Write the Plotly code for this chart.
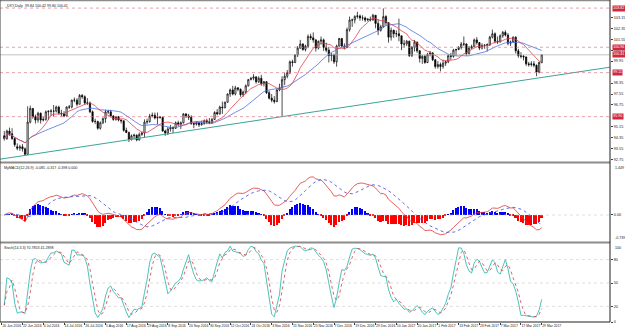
import plotly.graph_objects as go
import pandas as pd

# ---------------- data ----------------
# daily bars, index 0 = 13 Jun 2016 ... 207 = 29 Mar 2017
open_ = [94.50,94.30,94.85,94.65,94.30,93.70,93.60,93.70,93.55,93.15,
         95.50,96.50,95.90,95.65,96.15,95.65,95.70,96.25,96.30,96.30,
         96.30,96.60,96.15,96.10,95.95,96.60,96.60,97.10,97.10,96.80,
         97.45,97.35,96.90,96.90,96.25,95.55,95.55,95.05,95.45,95.75,
         96.25,96.25,95.95,95.70,95.90,95.65,95.60,94.90,94.75,94.25,
         94.50,94.55,94.20,94.60,94.70,95.50,95.55,95.95,96.00,95.80,
         95.85,95.85,94.85,94.70,95.00,95.10,95.05,95.45,95.35,95.45,
         96.10,95.95,95.85,95.40,95.35,95.45,95.30,95.40,95.60,95.50,
         95.45,95.70,96.20,96.10,96.60,96.55,96.95,97.55,97.85,97.55,
         98.00,97.90,97.50,97.70,98.15,98.60,98.70,98.80,98.45,98.70,
         98.30,98.45,97.65,97.25,97.10,97.00,97.85,98.00,98.60,98.85,
         99.10,99.90,99.85,100.40,100.90,101.20,100.80,101.05,101.75,101.65,
         101.50,100.90,101.40,101.50,100.95,100.75,100.35,100.40,99.90,101.05,
         101.60,101.05,100.95,102.25,102.95,102.95,103.20,103.25,103.10,103.10,
         102.95,103.00,102.95,103.30,102.70,102.20,102.45,103.20,102.75,101.70,
         102.20,101.95,101.95,101.80,101.20,101.20,101.40,100.35,100.95,101.35,
         100.70,100.15,100.30,99.85,100.45,100.55,100.05,99.55,99.70,99.55,
         99.80,99.90,100.35,100.30,100.75,100.80,100.95,101.20,101.20,100.50,
         100.90,101.00,101.50,101.30,100.90,101.10,101.10,101.15,101.70,101.95,
         101.40,101.35,101.80,102.05,101.85,101.25,101.35,101.70,100.70,100.35,
         100.30,100.25,99.75,99.70,99.75,99.65,99.15,99.84]
high = [94.85,94.95,95.10,95.05,94.35,93.95,93.85,93.90,93.65,96.65,
        96.70,96.50,96.05,96.25,96.20,95.90,96.35,96.35,96.45,96.75,
        96.70,96.70,96.40,96.30,96.65,96.75,97.15,97.30,97.25,97.55,
        97.55,97.45,97.25,97.00,96.35,95.75,95.60,95.55,95.85,96.40,
        96.40,96.40,96.00,95.95,95.95,95.70,95.60,95.10,94.80,94.60,
        94.65,94.60,94.75,94.80,95.70,95.75,96.10,96.20,96.20,96.20,
        95.95,95.90,94.95,95.15,95.30,95.20,95.55,95.60,95.55,96.15,
        96.15,96.10,96.00,95.45,95.55,95.50,95.60,95.70,95.75,95.80,
        95.80,96.30,96.45,96.70,97.00,97.00,97.60,97.95,98.15,98.15,
        98.05,97.95,97.80,98.25,98.65,98.80,99.00,98.85,98.85,98.95,
        98.50,98.50,97.80,97.55,97.40,97.90,98.30,98.85,99.10,99.30,
        100.00,100.05,100.45,101.05,101.50,101.25,101.15,101.90,101.95,102.05,
        101.55,101.45,101.75,101.60,101.30,101.00,100.55,100.50,101.15,101.65,
        101.60,101.25,102.40,103.20,103.05,103.30,103.55,103.35,103.30,103.20,
        103.10,103.20,103.40,103.30,103.00,102.60,103.80,103.30,102.80,102.40,
        102.25,102.20,103.05,101.80,101.50,101.50,101.45,101.05,101.50,101.35,
        100.75,100.40,100.40,100.55,100.70,100.60,100.10,99.95,99.85,100.05,
        100.00,100.45,100.55,100.85,100.85,101.05,101.35,101.75,101.25,101.05,
        101.15,101.60,101.70,101.35,101.25,101.20,101.25,101.80,102.25,102.05,
        101.75,101.90,102.15,102.20,102.00,101.45,101.75,101.75,100.85,100.60,
        100.40,100.30,99.90,99.95,99.95,99.70,99.90,100.42]
low = [94.15,94.20,94.50,94.20,93.70,93.45,93.40,93.35,93.05,93.10,
       95.40,95.75,95.40,95.45,95.40,95.55,95.60,95.65,95.95,95.90,
       96.20,96.05,95.90,95.85,95.90,96.45,96.50,96.95,96.65,96.80,
       97.20,96.75,96.75,96.15,95.45,95.35,94.95,94.95,95.35,95.45,
       96.10,95.85,95.60,95.60,95.55,95.40,94.80,94.70,94.05,94.15,
       94.25,94.10,94.15,94.50,94.35,95.35,95.45,95.85,95.70,95.35,
       95.75,94.80,94.50,94.55,94.80,94.70,95.00,95.20,95.00,95.40,
       95.80,95.65,95.30,95.05,95.25,95.15,95.25,95.30,95.35,95.35,
       95.40,95.65,96.00,96.05,96.10,96.50,96.90,97.35,97.45,97.45,
       97.75,97.35,97.35,97.55,98.10,98.55,98.55,98.30,98.35,98.15,
       98.10,97.55,97.15,96.95,96.85,96.95,97.75,95.90,98.20,98.70,
       99.00,99.55,99.80,100.25,100.85,100.70,100.65,100.90,101.50,101.30,
       100.65,100.80,101.15,100.70,100.60,99.85,99.95,99.75,99.55,101.00,
       100.95,100.80,100.90,102.10,102.45,102.70,103.05,102.90,102.90,102.80,
       102.85,102.85,102.90,102.35,101.85,102.10,102.40,102.55,101.30,101.45,
       101.65,101.70,101.40,100.75,100.95,101.05,100.25,100.25,100.65,100.55,
       99.85,99.75,99.75,99.80,100.30,99.95,99.40,99.40,99.20,99.40,
       99.60,99.80,100.05,100.20,100.35,100.75,100.80,101.05,100.35,100.45,
       100.85,100.95,101.15,100.75,100.80,100.85,100.65,101.05,101.60,101.25,
       101.20,101.30,101.65,101.75,101.10,101.05,101.30,100.50,100.20,100.15,
       100.00,99.60,99.55,99.55,99.50,98.85,99.05,99.80]
close = [94.30,94.85,94.65,94.30,93.85,93.60,93.70,93.55,93.15,95.50,
         96.50,95.90,95.65,96.15,95.65,95.70,96.25,96.30,96.30,96.30,
         96.60,96.15,96.10,95.95,96.60,96.60,97.10,97.10,96.80,97.45,
         97.35,96.90,96.90,96.25,95.55,95.55,95.05,95.45,95.75,96.25,
         96.25,95.95,95.70,95.90,95.65,95.60,94.90,94.75,94.25,94.50,
         94.55,94.20,94.60,94.70,95.50,95.55,95.95,96.00,95.80,95.85,
         95.85,94.85,94.70,95.00,95.10,95.05,95.45,95.35,95.45,96.10,
         95.95,95.85,95.40,95.35,95.45,95.30,95.40,95.60,95.50,95.45,
         95.70,96.20,96.10,96.60,96.55,96.95,97.55,97.85,97.55,98.00,
         97.90,97.50,97.70,98.15,98.60,98.70,98.80,98.45,98.70,98.30,
         98.45,97.65,97.25,97.10,97.00,97.85,98.00,98.60,98.85,99.10,
         99.90,99.85,100.40,100.90,101.20,100.80,101.05,101.75,101.65,101.50,
         100.90,101.40,101.50,100.95,100.75,100.35,100.40,99.90,101.05,101.60,
         101.05,100.95,102.25,102.95,102.95,103.20,103.25,103.10,103.10,102.95,
         103.00,102.95,103.30,102.70,102.20,102.45,103.20,102.75,101.70,102.20,
         101.95,101.95,101.80,101.20,101.20,101.40,100.35,100.95,101.35,100.70,
         100.15,100.30,99.85,100.45,100.55,100.05,99.55,99.70,99.55,99.80,
         99.90,100.35,100.30,100.75,100.80,100.95,101.20,101.20,100.50,100.90,
         101.00,101.50,101.30,100.90,101.10,101.10,101.15,101.70,101.95,101.40,
         101.35,101.80,102.05,101.85,101.25,101.35,101.70,100.70,100.35,100.30,
         100.25,99.75,99.70,99.75,99.65,99.15,99.85,100.41]

date_labels = ["20 Jun 2016", "22 Jun 2016", "4 Jul 2016", "14 Jul 2016", "26 Jul 2016",
               "5 Aug 2016", "17 Aug 2016", "29 Aug 2016", "8 Sep 2016", "20 Sep 2016",
               "30 Sep 2016", "12 Oct 2016", "24 Oct 2016", "3 Nov 2016", "15 Nov 2016",
               "25 Nov 2016", "7 Dec 2016", "19 Dec 2016", "29 Dec 2016", "10 Jan 2017",
               "20 Jan 2017", "1 Feb 2017", "13 Feb 2017", "23 Feb 2017", "7 Mar 2017",
               "17 Mar 2017", "29 Mar 2017"]
date_label_bar = [-0.9, 7, 15, 23, 31, 39, 47, 55, 63, 71, 79, 87, 95, 103, 111, 119,
                  127, 135, 143, 151, 159, 167, 175, 183, 191, 199, 207]

price_ticks = [92.75, 93.55, 94.35, 95.15, 96.75, 97.55, 98.35, 99.95,
               100.75, 101.55, 102.35, 103.15]
level_prices = [103.82, 100.96, 99.11, 95.90]
level_labels = ["103.82", "100.96", "99.11", "95.90"]
bid_price = 100.41
trend_bars = [9, 107]
trend_prices = [93.10, 95.90]

macd_range = [-0.739, 1.449]
macd_labels = ["-0.739", "0.00", "1.449"]
stoch_ticks = [0, 20, 50, 80]

title_text = "_DXY,Daily  99.84 100.42 99.80 100.41"
macd_title = "MyMACD(12,26,9) -0.085 -0.317 -0.398 0.000"
stoch_title = "Stoch(14,3,3) 70.7853 41.2898"

# ---------------- indicators ----------------
bars = list(range(len(close)))
c = pd.Series(close)
h = pd.Series(high)
l = pd.Series(low)
ma_fast = c.rolling(10, min_periods=1).mean()
ma_slow = c.rolling(20, min_periods=1).mean()
macd = c.ewm(span=12, adjust=False).mean() - c.ewm(span=26, adjust=False).mean()
signal = macd.rolling(9, min_periods=1).mean()
hist = macd - signal
ll = l.rolling(14, min_periods=1).min()
hh = h.rolling(14, min_periods=1).max()
k = 100 * (c - ll).rolling(3, min_periods=1).sum() / (hh - ll).rolling(3, min_periods=1).sum()
d = k.rolling(3, min_periods=1).mean()

XR = [-1.65, 233.3]
slope = (trend_prices[1] - trend_prices[0]) / (trend_bars[1] - trend_bars[0])
tx = [XR[0], XR[1]]
ty = [trend_prices[0] + slope * (x - trend_bars[0]) for x in tx]

FONT = "Liberation Sans"
fig = go.Figure()

# main panel
fig.add_trace(go.Scatter(x=bars, y=ma_slow, mode="lines", line=dict(color="#5070E0", width=0.8),
                         xaxis="x", yaxis="y", hoverinfo="skip"))
fig.add_trace(go.Scatter(x=bars, y=ma_fast, mode="lines", line=dict(color="#E04050", width=0.8),
                         xaxis="x", yaxis="y", hoverinfo="skip"))
fig.add_trace(go.Scatter(x=tx, y=ty, mode="lines", line=dict(color="#3AA597", width=1),
                         xaxis="x", yaxis="y", hoverinfo="skip"))
fig.add_trace(go.Candlestick(x=bars, open=open_, high=high, low=low, close=close,
                             increasing=dict(line=dict(color="black", width=0.7), fillcolor="white"),
                             decreasing=dict(line=dict(color="black", width=0.7), fillcolor="black"),
                             whiskerwidth=0, xaxis="x", yaxis="y"))

# macd panel
hcol = ["#0000FF" if v >= 0 else "#FF0000" for v in hist]
fig.add_trace(go.Bar(x=bars, y=hist, marker=dict(color=hcol, line=dict(width=0)), width=0.6,
                     xaxis="x2", yaxis="y2"))
fig.add_trace(go.Scatter(x=bars, y=macd, mode="lines", line=dict(color="#E03838", width=0.8),
                         xaxis="x2", yaxis="y2"))
fig.add_trace(go.Scatter(x=bars, y=signal, mode="lines", line=dict(color="#3848E0", width=0.8, dash="dot"),
                         xaxis="x2", yaxis="y2"))

# stochastic panel
fig.add_trace(go.Scatter(x=bars, y=k, mode="lines", line=dict(color="#20B2AA", width=0.8),
                         xaxis="x3", yaxis="y3"))
fig.add_trace(go.Scatter(x=bars, y=d, mode="lines", line=dict(color="#D04040", width=0.8, dash="dot"),
                         xaxis="x3", yaxis="y3"))

H = 322.0
def dom(top_px, bot_px):
    return [(H - bot_px) / H, (H - top_px) / H]

def ypaper(px):
    return (H - px) / H

axfont = dict(family=FONT, size=3.8, color="#202020")
common_x = dict(range=XR, showgrid=False, zeroline=False, showline=False, ticks="",
                showticklabels=False, fixedrange=True)
fig.update_layout(
    width=625, height=331, margin=dict(l=0, r=13, t=0, b=9),
    paper_bgcolor="white", plot_bgcolor="white", showlegend=False,
    xaxis=dict(domain=[0, 1], anchor="y", rangeslider=dict(visible=False), **common_x),
    xaxis2=dict(domain=[0, 1], anchor="y2", **common_x),
    xaxis3=dict(domain=[0, 1], anchor="y3", range=XR, showgrid=False, zeroline=False,
                showline=False, ticks="outside", ticklen=2, tickcolor="#404040",
                tickvals=date_label_bar, ticktext=date_labels, ticklabelposition="outside right",
                tickfont=dict(family=FONT, size=3.4, color="#202020"), tickangle=0),
    yaxis=dict(domain=dom(0, 162), range=[92.59, 104.41], side="right", showgrid=False,
               zeroline=False, tickvals=price_ticks, ticktext=[f"{v:.2f}" for v in price_ticks],
               tickfont=axfont, ticks="outside", ticklen=2, tickcolor="#404040"),
    yaxis2=dict(domain=dom(164, 241), range=macd_range, side="right",
                showgrid=False, zeroline=False, tickvals=[0], ticktext=[macd_labels[1]],
                tickfont=axfont, ticks="outside", ticklen=2, tickcolor="#404040"),
    yaxis3=dict(domain=dom(244, 322), range=[0, 100], side="right", showgrid=False,
                zeroline=False, tickvals=stoch_ticks, ticktext=[str(v) for v in stoch_ticks],
                tickfont=axfont, ticks="outside", ticklen=2, tickcolor="#404040"),
    bargap=0,
)

shapes = []
for p in level_prices:
    shapes.append(dict(type="line", xref="x domain", yref="y", x0=0, x1=1, y0=p, y1=p,
                       line=dict(color="#E07888", width=0.7, dash="dot")))
shapes.append(dict(type="line", xref="x domain", yref="y", x0=0, x1=1, y0=bid_price, y1=bid_price,
                   line=dict(color="#A8A8A8", width=0.7)))
shapes.append(dict(type="line", xref="x2 domain", yref="y2", x0=0, x1=1, y0=0, y1=0,
                   line=dict(color="#C8C8C8", width=0.6, dash="dot")))
for lv in [20, 50, 80]:
    shapes.append(dict(type="line", xref="x3 domain", yref="y3", x0=0, x1=1, y0=lv, y1=lv,
                       line=dict(color="#C8C8C8", width=0.6, dash="dot")))
for ypx in [0.5, 162.5, 242.5]:
    yy = ypaper(ypx)
    shapes.append(dict(type="line", xref="paper", yref="paper", x0=0, x1=1, y0=yy, y1=yy,
                       line=dict(color="#8C8C8C", width=2 if ypx > 1 else 1.5)))
shapes.append(dict(type="line", xref="paper", yref="paper", x0=0, x1=0, y0=0, y1=1,
                   line=dict(color="#404040", width=1)))
shapes.append(dict(type="line", xref="paper", yref="paper", x0=1, x1=1, y0=0, y1=1,
                   line=dict(color="#202020", width=1)))
shapes.append(dict(type="line", xref="paper", yref="paper", x0=0, x1=1, y0=0, y1=0,
                   line=dict(color="#202020", width=1)))
fig.update_layout(shapes=shapes)

ann = []
lab_font = dict(family=FONT, size=3.6, color="white")
for p, t in zip(level_prices, level_labels):
    ann.append(dict(xref="paper", yref="y", x=1.003, y=p, xanchor="left", yanchor="middle",
                    text=t, showarrow=False, bgcolor="#D0283C", font=lab_font, borderpad=0.3))
ann.append(dict(xref="paper", yref="y", x=1.003, y=bid_price, xanchor="left", yanchor="middle",
                text=f"{bid_price:.2f}", showarrow=False, bgcolor="#D0283C", font=lab_font,
                borderpad=0.3))
side_font = dict(family=FONT, size=3.6, color="#202020")
ann.append(dict(xref="paper", yref="paper", x=1.005, y=ypaper(163.5), xanchor="left", yanchor="top",
                text=macd_labels[2], showarrow=False, font=side_font))
ann.append(dict(xref="paper", yref="paper", x=1.005, y=ypaper(241.5), xanchor="left", yanchor="bottom",
                text=macd_labels[0], showarrow=False, font=side_font))
ann.append(dict(xref="paper", yref="paper", x=1.005, y=ypaper(243.5), xanchor="left", yanchor="top",
                text="100", showarrow=False, font=side_font))
ann.append(dict(xref="paper", yref="paper", x=0.004, y=ypaper(1.5), xanchor="left", yanchor="top",
                text=title_text, showarrow=False, font=dict(family=FONT, size=3.6, color="#202020")))
ann.append(dict(xref="paper", yref="paper", x=0.004, y=ypaper(164), xanchor="left", yanchor="top",
                text=macd_title, showarrow=False, font=dict(family=FONT, size=3.6, color="#202020")))
ann.append(dict(xref="paper", yref="paper", x=0.004, y=ypaper(244), xanchor="left", yanchor="top",
                text=stoch_title, showarrow=False, font=dict(family=FONT, size=3.6, color="#202020")))
fig.update_layout(annotations=ann)

fig.write_html("out.html")
